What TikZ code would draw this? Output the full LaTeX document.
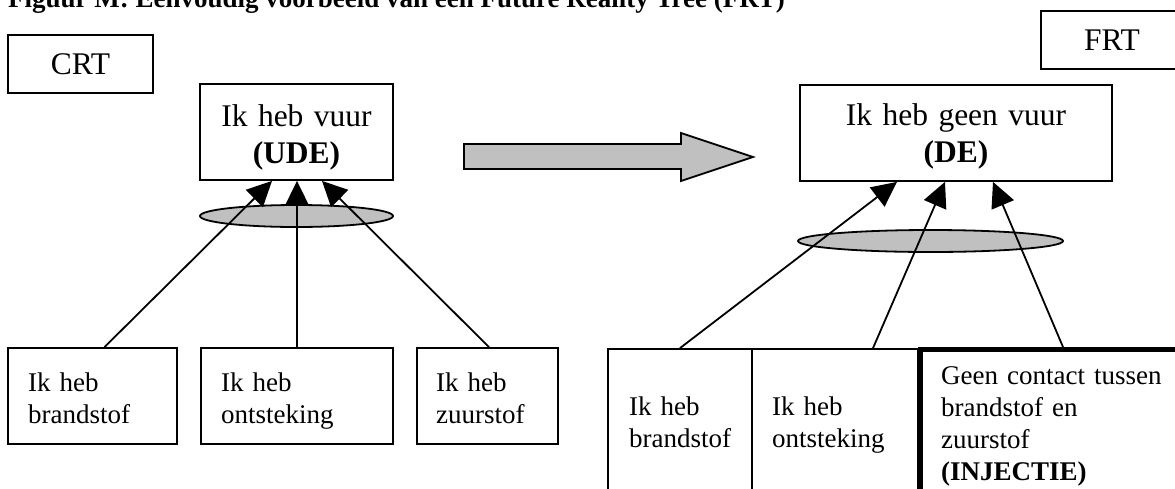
\documentclass[tikz,border=0pt]{standalone}
\usepackage{fontspec}
\setmainfont{Liberation Serif}
\usetikzlibrary{arrows.meta,shapes.geometric}
\definecolor{shapegray}{HTML}{C0C0C0}

\begin{document}
\begin{tikzpicture}[x=1pt,y=-1pt,
  box/.style={draw,line width=1.8pt,rectangle,inner sep=0pt},
  heavybox/.style={draw,line width=5pt,rectangle,inner sep=0pt},
  smalltxt/.style={font=\fontsize{27}{32}\selectfont},
  bigtxt/.style={font=\fontsize{31.5}{37}\selectfont},
  leftblock/.style={inner sep=0pt,anchor=base west,align=left,text width=#1},
  midblock/.style={inner sep=0pt,anchor=base,align=center,text width=#1},
  andlink/.style={draw,line width=1.8pt,ellipse,fill=shapegray,inner sep=0pt},
  conn/.style={line width=1.8pt,-{Triangle[length=25pt,width=24pt]}},
]
\useasboundingbox (0,0) rectangle (1175,488);
\clip (0,0) rectangle (1175,488);

% caption
\node[anchor=base west,inner sep=0pt,font=\fontsize{27}{32}\selectfont\bfseries]
  (title) at (8,7) {Figuur M: Eenvoudig voorbeeld van een Future Reality Tree (FRT)};

% tree labels
\node[box,bigtxt,minimum width=145pt,minimum height=58pt] (crt) at (80.5,64) {CRT};
\node[box,bigtxt,minimum width=142pt,minimum height=58pt] (frt) at (1112,40) {FRT};

% ---------- current reality tree ----------
\node[box,minimum width=193pt,minimum height=96pt] (vuur) at (296.5,132) {};
\node[midblock=250pt,bigtxt] (vuurtxt) at (296.5,126) {Ik heb vuur\\\textbf{(UDE)}};

\node[box,minimum width=169pt,minimum height=96pt] (b1) at (92.5,396) {};
\node[box,minimum width=192pt,minimum height=96pt] (b2) at (297,396) {};
\node[box,minimum width=141pt,minimum height=96pt] (b3) at (487.5,396) {};
\node[leftblock=150pt,smalltxt] (b1txt) at (28,391) {Ik heb\\brandstof};
\node[leftblock=160pt,smalltxt] (b2txt) at (221,391) {Ik heb\\ontsteking};
\node[leftblock=120pt,smalltxt] (b3txt) at (436,391) {Ik heb\\zuurstof};

\node[andlink,minimum width=193pt,minimum height=22pt] (and1) at (296.5,216) {};

% ---------- transition arrow ----------
\draw[line width=1.8pt,fill=shapegray,line join=miter]
  (464,144) -- (681,144) -- (681,133) -- (753,157) -- (681,181) -- (681,169) -- (464,169) -- cycle;

% ---------- future reality tree ----------
\node[box,minimum width=312pt,minimum height=96pt] (geenvuur) at (956,133) {};
\node[midblock=300pt,bigtxt] (geenvuurtxt) at (956,125) {Ik heb geen vuur\\\textbf{(DE)}};

\node[box,minimum width=144pt,minimum height=171pt] (fa) at (680,434.5) {};
\node[box,minimum width=166pt,minimum height=171pt] (fb) at (835,434.5) {};
\node[heavybox,minimum width=285pt,minimum height=170.5pt] (fc) at (1063,434.75) {};
\node[leftblock=120pt,smalltxt] (fatxt) at (629,415) {Ik heb\\brandstof};
\node[leftblock=140pt,smalltxt] (fbtxt) at (772,415) {Ik heb\\ontsteking};
\node[leftblock=230pt,smalltxt] (fctxt) at (941,384)
  {Geen contact tussen\\brandstof en\\zuurstof\\\textbf{(INJECTIE)}};

\node[andlink,minimum width=265pt,minimum height=22pt] (and2) at (930.5,241) {};

% ---------- causal connectors ----------
\draw[conn] ([xshift=12pt]b1.north) -- ([xshift=-24.5pt]vuur.south);
\draw[conn] (b2.north) -- ([xshift=0.5pt]vuur.south);
\draw[conn] ([xshift=1.5pt]b3.north) -- ([xshift=25.5pt]vuur.south);

\draw[conn] (fa.north) -- ([xshift=-59pt]geenvuur.south);
\draw[conn] ([xshift=38pt]fb.north) -- ([xshift=-11pt]geenvuur.south);
\draw[conn] (fc.north) -- ([xshift=37pt]geenvuur.south);
\end{tikzpicture}
\end{document}
